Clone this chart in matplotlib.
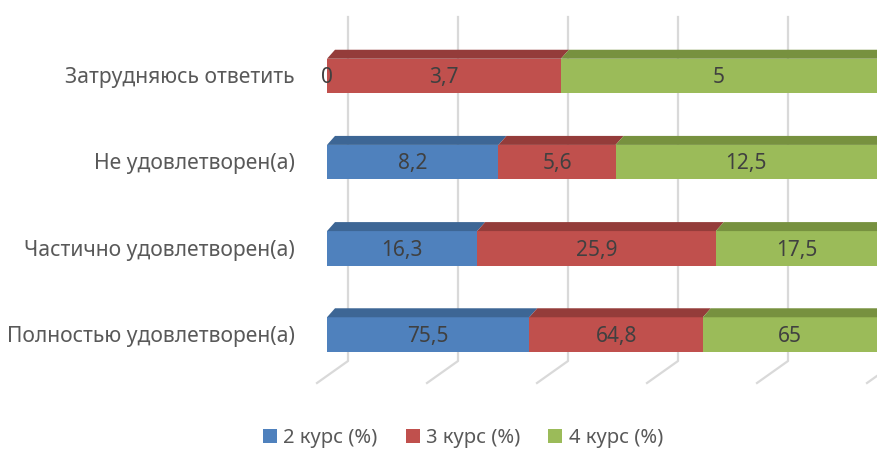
import matplotlib
matplotlib.use('Agg')
import matplotlib.pyplot as plt
from matplotlib.patches import Polygon, Patch
import numpy as np

# Categories (bottom to top as drawn)
categories = ['Полностью удовлетворен(а)', 'Частично удовлетворен(а)',
              'Не удовлетворен(а)', 'Затрудняюсь ответить']
series_names = ['2 курс (%)', '3 курс (%)', '4 курс (%)']
kurs2 = [75.5, 16.3, 8.2, 0]
kurs3 = [64.8, 25.9, 5.6, 3.7]
kurs4 = [65, 17.5, 12.5, 5]
labels2 = ['75,5', '16,3', '8,2', '0']
labels3 = ['64,8', '25,9', '5,6', '3,7']
labels4 = ['65', '17,5', '12,5', '5']

front_colors = ['#4F81BD', '#C0504D', '#9BBB59']
top_colors = ['#3D6695', '#943C3A', '#77913F']
grid_color = '#D9D9D9'
text_color = '#404040'
label_color = '#595959'
FONT = 'Noto Sans'

W, H = 878, 451
fig = plt.figure(figsize=(W / 100, H / 100), dpi=100)
# axes: x 0..100 -> px 327..877, y bottom at px 383, top at px 17
ax = fig.add_axes([327 / W, (H - 383) / H, 550 / W, 366 / H])
row_px = 86.2
ax.set_xlim(0, 100)
ax.set_ylim(-(383 - 334.5) / row_px, 3 + (76 - 17) / row_px)
ax.set_axis_off()

def px_to_data(x, y):
    # pixels measured from top-left of figure -> data coords
    disp = np.array([x, H - y])
    return ax.transData.inverted().transform(disp)

def data_to_px(x, y):
    d = ax.transData.transform((x, y))
    return d[0], H - d[1]

# back wall gridlines + floor diagonals
for v in range(0, 101, 20):
    xf, _ = data_to_px(v, 0)
    pts = [(xf + 21, 17), (xf + 21, 361), (xf - 10, 383)]
    dpts = [px_to_data(*p) for p in pts]
    ax.plot([p[0] for p in dpts], [p[1] for p in dpts], color=grid_color,
            lw=1.6, zorder=0, clip_on=False)

# 100% stacked values
data = np.array([kurs2, kurs3, kurs4], dtype=float)
totals = data.sum(axis=0)
pct = data / totals * 100
bar_h = 34.5 / row_px
dx = 8 * 100 / 550
dy = 9 / row_px
ypos = np.arange(len(categories))
left = np.zeros(len(categories))
all_labels = [labels2, labels3, labels4]
for s in range(3):
    ax.barh(ypos, pct[s], left=left, height=bar_h, color=front_colors[s],
            edgecolor='none', zorder=2)
    for i in range(len(categories)):
        l, r = left[i], left[i] + pct[s][i]
        t = ypos[i] + bar_h / 2
        if r > l:
            ax.add_patch(Polygon([(l, t), (r, t), (r + dx, t + dy), (l + dx, t + dy)],
                                 closed=True, facecolor=top_colors[s],
                                 edgecolor='none', zorder=2, clip_on=False))
        if s == 2:
            b = ypos[i] - bar_h / 2
            ax.add_patch(Polygon([(r, b), (r, t), (r + dx, t + dy), (r + dx, b + dy)],
                                 closed=True, facecolor=top_colors[s],
                                 edgecolor='none', zorder=2, clip_on=False))
        ax.text((l + r) / 2, ypos[i] - 0.02, all_labels[s][i], ha='center', va='center',
                fontsize=15, color=text_color, family=FONT, zorder=3)
    left = left + pct[s]

# category labels
for i, c in enumerate(categories):
    x, y = px_to_data(295, 0)
    ax.text(x, ypos[i] - 0.02, c, ha='right', va='center', fontsize=15.2,
            color=label_color, family=FONT, clip_on=False)

handles = [Patch(facecolor=front_colors[s], edgecolor='none') for s in range(3)]
fig.legend(handles, series_names, loc='center', ncol=3,
           bbox_to_anchor=(463 / W, (H - 438) / H), frameon=False,
           prop={'family': FONT, 'size': 14.5}, labelcolor=label_color,
           handlelength=0.7, handleheight=0.7, handletextpad=0.3,
           columnspacing=1.4)

fig.savefig('out.png', dpi=100)
